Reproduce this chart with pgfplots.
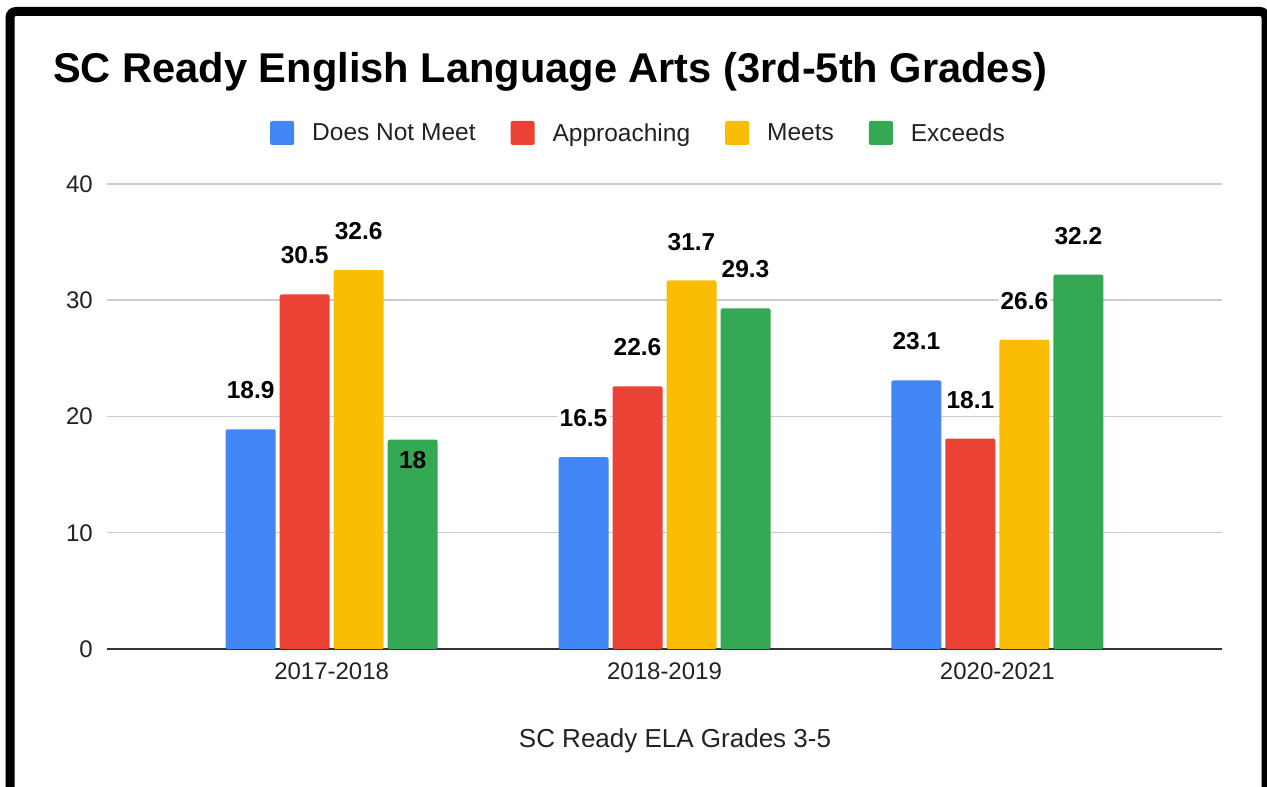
\documentclass[border=0pt]{standalone}
\usepackage{fontspec}
\setmainfont{Liberation Sans}
\usepackage{pgfplots}
\pgfplotsset{compat=1.18}

\definecolor{gblue}{HTML}{4285F4}
\definecolor{gred}{HTML}{EA4335}
\definecolor{gyellow}{HTML}{FBBC04}
\definecolor{ggreen}{HTML}{34A853}
\definecolor{txtgray}{HTML}{222222}
\definecolor{gridgray}{HTML}{CCCCCC}
\definecolor{basegray}{HTML}{333333}

\begin{document}
\begin{tikzpicture}
\fill[white] (0pt,0pt) rectangle (1267pt,787pt);
\path[use as bounding box] (0pt,0pt) rectangle (1267pt,787pt);

\begin{axis}[
    at={(107pt,138pt)}, anchor=south west,
    scale only axis, width=1115pt, height=465pt,
    xmin=-0.675, xmax=2.675, ymin=0, ymax=40,
    ybar=4pt, bar width=50pt,
    clip=false,
    axis line style={draw=none},
    major tick length=0pt,
    ytick={0,10,20,30,40},
    xtick={0,1,2},
    xticklabels={2017-2018,2018-2019,2020-2021},
    /pgf/number format/assume math mode=true,
    tick label style={font=\fontsize{24}{28}\selectfont, text=txtgray},
    yticklabel style={inner sep=0pt, xshift=-14pt},
    xticklabel style={inner sep=0pt, yshift=-14pt},
    ymajorgrids,
    grid style={draw=gridgray, line width=1.5pt},
    extra y ticks={0},
    extra y tick labels={},
    extra y tick style={grid style={draw=basegray, line width=2pt}},
    xlabel={SC Ready ELA Grades 3-5},
    xlabel style={at={(axis description cs:0.5094,-0.2129)}, anchor=base,
        inner sep=0pt, font=\fontsize{26}{30}\selectfont, text=txtgray},
    legend cell align=left,
    legend image code/.code={\fill[#1, rounded corners=2pt] (0pt,-12pt) rectangle (24pt,12pt);},
    legend style={at={(axis description cs:0.4758,1.1097)}, anchor=center,
        draw=none, fill=none, legend columns=-1, inner sep=0pt,
        nodes={inner sep=0pt},
        font=\fontsize{24.5}{30}\selectfont, text=txtgray,
        /tikz/every odd column/.append style={column sep=18pt},
        /tikz/every even column/.append style={column sep=35pt}},
    nodes near coords,
    every node near coord/.append style={font=\fontsize{24.5}{28}\selectfont\bfseries,
        text=black, anchor=south, inner sep=2pt, yshift=28pt, fill=white},
]
\addplot[fill=gblue, draw=none, rounded corners=2pt] table[x=x, y=y] {
x y
0 18.9
1 16.5
2 23.1
};
\addplot[fill=gred, draw=none, rounded corners=2pt] table[x=x, y=y] {
x y
0 30.5
1 22.6
2 18.1
};
\addplot[fill=gyellow, draw=none, rounded corners=2pt] table[x=x, y=y] {
x y
0 32.6
1 31.7
2 26.6
};
% the "18" label sits inside its bar
\addplot[fill=ggreen, draw=none, rounded corners=2pt,
    visualization depends on={\thisrow{off} \as \offs},
    every node near coord/.append style={yshift=\offs pt, fill=none}] table[x=x, y=y] {
x y off
0 18 -59.5
1 29.3 0
2 32.2 0
};
\legend{Does Not Meet, Approaching, Meets, Exceeds}
\end{axis}

\node[anchor=base west, inner sep=0pt, font=\fontsize{41.6}{48}\selectfont\bfseries]
    at (53pt,704pt) {SC Ready English Language Arts (3rd-5th Grades)};

\draw[line width=9pt, rounded corners=6pt]
    (10pt,-20pt) -- (10pt,775.5pt) -- (1266pt,775.5pt) -- (1266pt,-20pt);
\end{tikzpicture}
\end{document}
